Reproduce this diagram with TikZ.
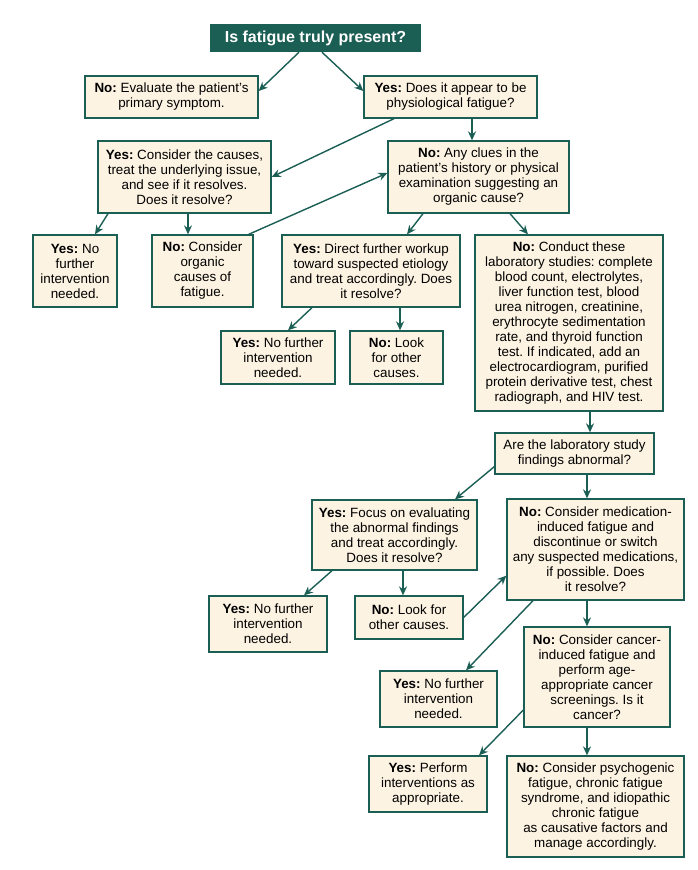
\documentclass[tikz,border=0pt]{standalone}
\usepackage{fontspec}
\setmainfont{Liberation Sans}
\usetikzlibrary{arrows.meta,calc}
\definecolor{teal1}{HTML}{1B5E54}
\definecolor{cream}{HTML}{FDF3E2}
\frenchspacing
\begin{document}
\begin{tikzpicture}[x=1pt,y=-1pt,
  box/.style={draw=teal1,fill=cream,line width=1.3pt,align=center,inner sep=0pt,
    font=\fontsize{13.4}{15}\selectfont,text=black},
  arr/.style={draw=teal1,line width=1.4pt,-{Stealth[length=9pt,width=8pt,inset=3pt]}},
  title/.style={fill=teal1,text=white,inner sep=0pt,font=\fontsize{16}{18}\selectfont\bfseries}]
\useasboundingbox[fill=white] (0,0) rectangle (697,870);
\node[title,minimum width=211,minimum height=28] (title) at (315.5,38) {Is fatigue truly present?};
\node[box,minimum width=173,minimum height=42] (noEval) at (171.5,97) {\textbf{No:} Evaluate the patient’s\\primary symptom.};
\node[box,minimum width=173,minimum height=42] (yesPhys) at (450.5,97) {\textbf{Yes:} Does it appear to be\\physiological fatigue?};
\node[box,minimum width=173,minimum height=72] (yesCons) at (184.5,177) {\textbf{Yes:} Consider the causes,\\treat the underlying issue,\\and see if it resolves.\\Does it resolve?};
\node[box,minimum width=181,minimum height=72] (noClues) at (478.5,177) {\textbf{No:} Any clues in the\\patient’s history or physical\\examination suggesting an\\organic cause?};
\node[box,minimum width=84,minimum height=72] (yesNF1) at (75,271) {\textbf{Yes:} No\\further\\intervention\\needed.};
\node[box,minimum width=101,minimum height=72] (noOrg) at (202.5,271) {\textbf{No:} Consider\\organic\\causes of\\fatigue.};
\node[box,minimum width=178,minimum height=72] (yesDir) at (371,271) {\textbf{Yes:} Direct further workup\\toward suspected etiology\\and treat accordingly. Does\\it resolve?};
\node[box,minimum width=188,minimum height=176] (noCond) at (569,323) {\textbf{No:} Conduct these\\laboratory studies: complete\\blood count, electrolytes,\\liver function test, blood\\urea nitrogen, creatinine,\\erythrocyte sedimentation\\rate, and thyroid function\\test. If indicated, add an\\electrocardiogram, purified\\protein derivative test, chest\\radiograph, and HIV test.};
\node[box,minimum width=114,minimum height=53] (yesNF2) at (278,357.5) {\textbf{Yes:} No further\\intervention\\needed.};
\node[box,minimum width=93,minimum height=53] (noLook1) at (396.5,357.5) {\textbf{No:} Look\\for other\\causes.};
\node[box,minimum width=159,minimum height=41] (areLab) at (574.5,453.5) {Are the laboratory study\\findings abnormal?};
\node[box,minimum width=165,minimum height=70] (yesFocus) at (394.5,535) {\textbf{Yes:} Focus on evaluating\\the abnormal findings\\and treat accordingly.\\Does it resolve?};
\node[box,minimum width=177,minimum height=101] (noMed) at (595.5,549.5) {\textbf{No:} Consider medication-\\induced fatigue and\\discontinue or switch\\any suspected medications,\\if possible. Does\\it resolve?};
\node[box,minimum width=118,minimum height=56] (yesNF3) at (268,624) {\textbf{Yes:} No further\\intervention\\needed.};
\node[box,minimum width=108,minimum height=43] (noLook2) at (409,617.5) {\textbf{No:} Look for\\other causes.};
\node[box,minimum width=146,minimum height=100] (noCancer) at (597,677) {\textbf{No:} Consider cancer-\\induced fatigue and\\perform age-\\appropriate cancer\\screenings. Is it\\cancer?};
\node[box,minimum width=117,minimum height=56] (yesNF4) at (438.5,699) {\textbf{Yes:} No further\\intervention\\needed.};
\node[box,minimum width=118,minimum height=56] (yesPerf) at (428,784) {\textbf{Yes:} Perform\\interventions as\\appropriate.};
\node[box,minimum width=177,minimum height=101] (noPsych) at (595.5,806.5) {\textbf{No:} Consider psychogenic\\fatigue, chronic fatigue\\syndrome, and idiopathic\\chronic fatigue\\as causative factors and\\manage accordingly.};
% connectors
\draw[arr] ([xshift=-16.5]title.south) -- ([yshift=6]noEval.east);
\draw[arr] ([xshift=6.5]title.south) -- ([yshift=6]yesPhys.west);
\draw[arr] ([xshift=-56.5]yesPhys.south) -- (yesCons.east);
\draw[arr] ([xshift=21.5]yesPhys.south) -- ([xshift=21.5]yesPhys.south |- noClues.north);
\draw[arr] ([xshift=-5]noOrg.north east) -- ([yshift=4]noClues.west);
\draw[arr] ([xshift=-76.5]yesCons.south) -- ([xshift=20]yesNF1.north);
\draw[arr] ([xshift=3.5]yesCons.south) -- ([xshift=3.5]yesCons.south |- noOrg.north);
\draw[arr] ([xshift=-55.5]noClues.south) -- ([xshift=36]yesDir.north);
\draw[arr] ([xshift=31.5]noClues.south) -- ([xshift=-41]noCond.north);
\draw[arr] ([xshift=-59]yesDir.south) -- ([xshift=10]yesNF2.north);
\draw[arr] ([xshift=29]yesDir.south) -- ([xshift=29]yesDir.south |- noLook1.north);
\draw[arr] ([xshift=21]noCond.south) -- ([xshift=21]noCond.south |- areLab.north);
\draw[arr] ([yshift=8]areLab.south west) -- ([xshift=60.5]yesFocus.north);
\draw[arr] ([xshift=12.5]areLab.south) -- ([xshift=12.5]areLab.south |- noMed.north);
\draw[arr] ([xshift=-62.5]yesFocus.south) -- ([xshift=36]yesNF3.north);
\draw[arr] ([xshift=8.5]yesFocus.south) -- ([xshift=8.5]yesFocus.south |- noLook2.north);
\draw[arr] (noLook2.east) -- ([yshift=25]noMed.south west);
\draw[arr] ([xshift=-62.5]noMed.south) -- ([xshift=27.5]yesNF4.north);
\draw[arr] ([xshift=-8.5]noMed.south) -- ([xshift=-8.5]noMed.south |- noCancer.north);
\draw[arr] ([yshift=-33]noCancer.west) -- ([xshift=51]yesPerf.north);
\draw[arr] ([xshift=-10]noCancer.south) -- ([xshift=-10]noCancer.south |- noPsych.north);
\end{tikzpicture}
\end{document}
